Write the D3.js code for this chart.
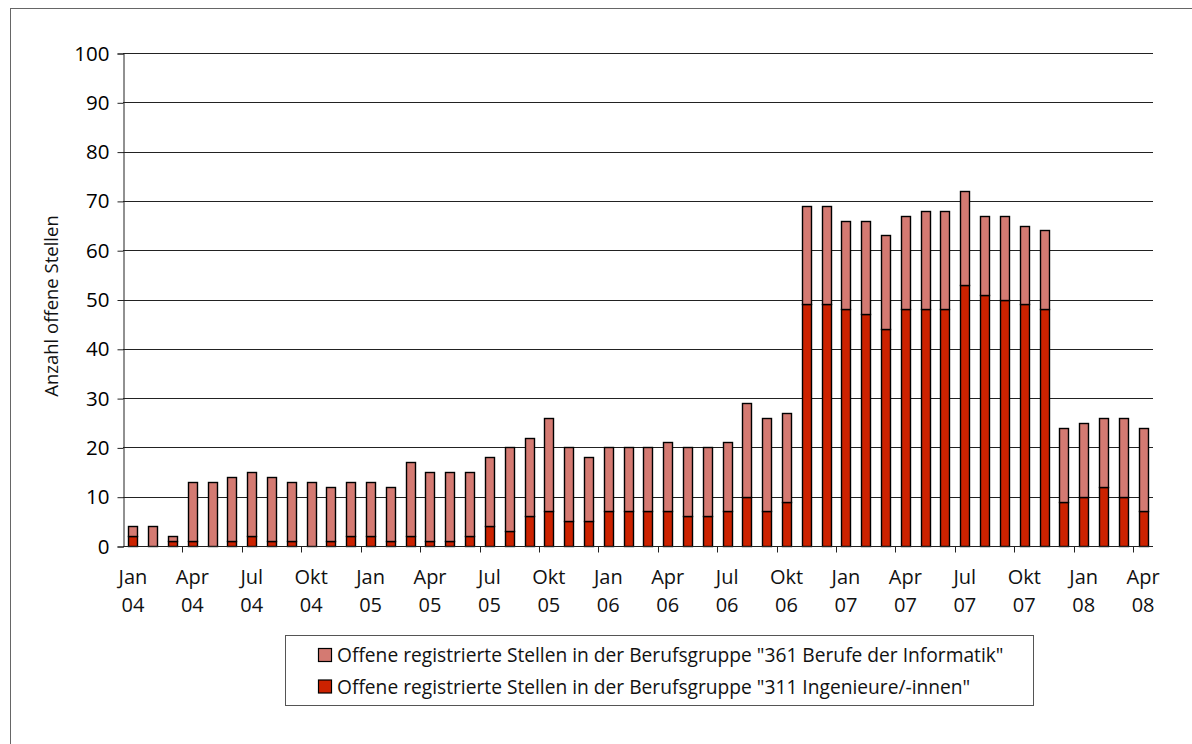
<!DOCTYPE html>
<meta charset="utf-8">
<style>
  body { margin: 0; background: #fff; }
  text { font-family: "Open Sans", sans-serif; fill: #000; }
</style>
<body>
<script src="https://d3js.org/d3.v7.min.js"></script>
<script>
    var width = 1192,
        height = 744;

    // months Jan 04 .. Apr 08
    var monthNames = ["Jan", "Feb", "Mrz", "Apr", "Mai", "Jun", "Jul", "Aug", "Sep", "Okt", "Nov", "Dez"];
    var years = ["04", "05", "06", "07", "08"];

    // "311 Ingenieure/-innen" (bottom, dark red)
    var ingenieure = [
        2, 0, 1, 1, 0, 1, 2, 1, 1, 0, 1, 2,
        2, 1, 2, 1, 1, 2, 4, 3, 6, 7, 5, 5,
        7, 7, 7, 7, 6, 6, 7, 10, 7, 9, 49, 49,
        48, 47, 44, 48, 48, 48, 53, 51, 50, 49, 48, 9,
        10, 12, 10, 7
    ];
    // "361 Berufe der Informatik" (stacked on top, light red)
    var informatik = [
        2, 4, 1, 12, 13, 13, 13, 13, 12, 13, 11, 11,
        11, 11, 15, 14, 14, 13, 14, 17, 16, 19, 15, 13,
        13, 13, 13, 14, 14, 14, 14, 19, 19, 18, 20, 20,
        18, 19, 19, 19, 20, 20, 19, 16, 17, 16, 16, 15,
        15, 14, 16, 17
    ];
    var yTicks = [0, 10, 20, 30, 40, 50, 60, 70, 80, 90, 100];
    var seriesNames = [
        'Offene registrierte Stellen in der Berufsgruppe "361 Berufe der Informatik"',
        'Offene registrierte Stellen in der Berufsgruppe "311 Ingenieure/-innen"'
    ];
    var colors = { informatik: "#d47a72", ingenieure: "#cc2200" };

    var categories = ingenieure.map(function (d, i) {
        return monthNames[i % 12] + " " + years[Math.floor(i / 12)];
    });

    var data = categories.map(function (c, i) {
        return { cat: c, ingenieure: ingenieure[i], informatik: informatik[i] };
    });

    const margin = {top: 53, right: 39, bottom: 198, left: 123};

    var x = d3.scaleBand()
        .domain(categories)
        .range([margin.left, width - margin.right])
        .paddingInner(0.54)
        .paddingOuter(0.27);

    var y = d3.scaleLinear()
        .domain([0, 100])
        .range([height - margin.bottom, margin.top]);

    const svg = d3.select('body')
        .append('svg')
        .attr('width', width)
        .attr('height', height);

    // outer frame (runs off the right and bottom edge)
    svg.append('rect')
        .attr('x', 10.5).attr('y', 8.5)
        .attr('width', width + 10).attr('height', height + 10)
        .attr('fill', 'none')
        .attr('stroke', '#666');

    // gridlines
    svg.append('g')
        .selectAll('line')
        .data(yTicks.slice(1))
        .enter().append('line')
        .attr('x1', margin.left)
        .attr('x2', width - margin.right)
        .attr('y1', d => Math.round(y(d)) + 0.5)
        .attr('y2', d => Math.round(y(d)) + 0.5)
        .attr('stroke', '#222');

    var stack = d3.stack().keys(["ingenieure", "informatik"]);
    var layers = stack(data);

    svg.append('g')
        .selectAll('g')
        .data(layers)
        .enter().append('g')
        .attr('fill', d => colors[d.key])
        .selectAll('rect')
        .data(d => d)
        .enter().append('rect')
        .attr('x', d => Math.round(x(d.data.cat)) + 0.5)
        .attr('width', Math.round(x.bandwidth()))
        .attr('y', d => Math.round(y(d[1])) + 0.5)
        .attr('height', d => Math.round(y(d[0])) - Math.round(y(d[1])))
        .attr('stroke', d => (d[1] - d[0]) > 0 ? '#000' : 'none')
        .attr('stroke-width', 1.4);

    // y axis
    var yAxis = d3.axisLeft(y)
        .tickValues(yTicks)
        .tickSize(6)
        .tickPadding(8);

    var gy = svg.append('g')
        .attr('transform', `translate(${margin.left + 0.5},0.5)`)
        .call(yAxis);
    gy.select('.domain').attr('stroke', '#222');
    gy.selectAll('.tick line').attr('stroke', '#222');
    gy.selectAll('.tick text')
        .style('font-size', '20.5px')
        .attr('fill', '#111');

    // x axis: ticks between quarters, labels under quarter months
    var xAxisY = Math.round(y(0)) + 0.5;
    var gx = svg.append('g');
    gx.append('line')
        .attr('x1', margin.left).attr('x2', width - margin.right)
        .attr('y1', xAxisY).attr('y2', xAxisY)
        .attr('stroke', '#222');
    var step = x.step();
    gx.selectAll('.qtick')
        .data(categories.filter((c, i) => i % 3 === 0 && i > 0))
        .enter().append('line')
        .attr('x1', d => Math.round(x(d) - (step - x.bandwidth()) / 2) + 0.5)
        .attr('x2', d => Math.round(x(d) - (step - x.bandwidth()) / 2) + 0.5)
        .attr('y1', xAxisY).attr('y2', xAxisY + 6)
        .attr('stroke', '#222');
    var lbl = gx.selectAll('.qlabel')
        .data(categories.filter((c, i) => i % 3 === 0))
        .enter().append('text')
        .attr('text-anchor', 'middle')
        .style('font-size', '20px')
        .style('fill', '#111')
        .attr('x', d => x(d) + x.bandwidth() / 2);
    lbl.append('tspan')
        .attr('x', d => x(d) + x.bandwidth() / 2)
        .attr('y', 584)
        .text(d => d.split(' ')[0]);
    lbl.append('tspan')
        .attr('x', d => x(d) + x.bandwidth() / 2)
        .attr('y', 612)
        .text(d => d.split(' ')[1]);

    // y axis title
    svg.append('text')
        .attr('transform', 'translate(58,306) rotate(-90)')
        .attr('text-anchor', 'middle')
        .style('font-size', '18.5px')
        .style('fill', '#111')
        .text('Anzahl offene Stellen');

    // legend
    var legend = svg.append('g');
    legend.append('rect')
        .attr('x', 285.5).attr('y', 635.5)
        .attr('width', 748).attr('height', 70)
        .attr('fill', '#fff')
        .attr('stroke', '#555');
    var items = legend.selectAll('.item')
        .data([
            { name: seriesNames[0], color: colors.informatik },
            { name: seriesNames[1], color: colors.ingenieure }
        ])
        .enter().append('g')
        .attr('transform', (d, i) => `translate(318,${655 + i * 31.5})`);
    items.append('rect')
        .attr('x', 0.5).attr('y', -6.5)
        .attr('width', 13).attr('height', 13)
        .attr('fill', d => d.color)
        .attr('stroke', '#000')
        .attr('stroke-width', 1.2);
    items.append('text')
        .attr('x', 19)
        .attr('y', 7)
        .style('font-size', '19.2px')
        .style('fill', '#111')
        .text(d => d.name);
</script>
</body>
